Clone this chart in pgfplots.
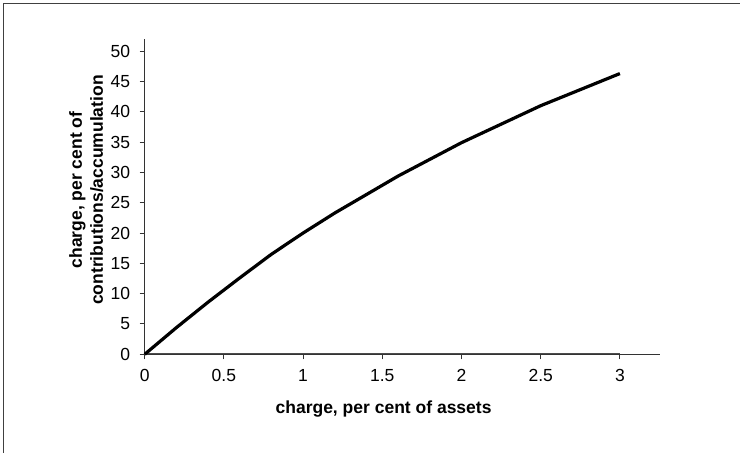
\documentclass[border=0pt]{standalone}
\usepackage{fontspec}
\setmainfont{Liberation Sans}
\usepackage{pgfplots}
\pgfplotsset{compat=1.18}
\begin{document}
\fontsize{17.5}{21}\selectfont
\begin{tikzpicture}[x=1pt,y=1pt]
\useasboundingbox (0,0) rectangle (740,453);
\draw[black!75, line width=1.6pt] (3.5,0) -- (3.5,449.5) -- (740,449.5);
\begin{axis}[
  at={(144.7pt,98.7pt)}, anchor=south west,
  scale only axis, width=514.8pt, height=315.3pt,
  xmin=0, xmax=3.25, ymin=0, ymax=52,
  axis x line*=bottom, axis y line*=left,
  axis line style={-, black!80, line width=1.1pt},
  xtick={0,0.5,1,1.5,2,2.5,3},
  ytick={0,5,10,15,20,25,30,35,40,45,50},
  tick align=outside, major tick length=5pt,
  tick style={black!80, line width=1pt},
  /pgf/number format/assume math mode=true,
  ticklabel style={font=\fontsize{17.5}{21}\selectfont},
  yticklabel style={xshift=-3.5pt},
  xticklabel style={yshift=-4pt},
  xlabel={charge, per cent of assets},
  ylabel={charge, per cent of\\contributions/accumulation},
  label style={font=\fontsize{17.5}{21}\selectfont\bfseries},
  xlabel style={at={(axis description cs:0.464,0)}, anchor=center, yshift=-54.7pt},
  ylabel style={at={(axis description cs:0,0.521)}, anchor=center, yshift=58.5pt, align=center},
  clip=false,
]
\addplot[black!70, line width=0.8pt, yshift=1pt] coordinates {(0,0) (3,0)};
\addplot[black, line width=3.2pt, line join=round] coordinates {
(0,0) (0.2,4.4) (0.4,8.6) (0.6,12.6) (0.8,16.5) (1.0,20.0) (1.2,23.3) (1.6,29.4) (2.0,34.9) (2.5,41.0) (3.0,46.3)
};
\end{axis}
\end{tikzpicture}
\end{document}
